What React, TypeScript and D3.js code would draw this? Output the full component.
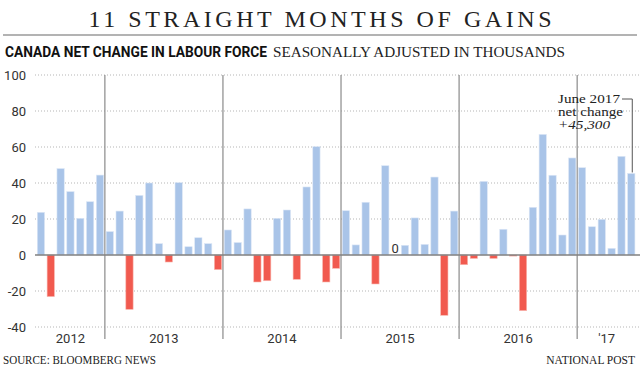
import React from "react";
import * as d3 from "d3";

// monthly net change, Jun 2012 - Jun 2017 (thousands)
const years = ["2012", "2013", "2014", "2015", "2016", "'17"];
const monthsPerYear = [7, 12, 12, 12, 12, 6];
const netChange = [
  23.7, -23.1, 48.0, 35.2, 20.4, 29.6, 44.4,
  13.0, 24.4, -30.2, 33.1, 40.0, 6.3, -3.9, 40.2, 4.6, 9.6, 6.3, -8.1,
  13.9, 6.9, 25.6, -15.0, -14.3, 20.4, 25.0, -13.5, 37.8, 60.2, -15.0, -7.4,
  24.6, 5.6, 29.3, -16.1, 49.6, 0, 5.4, 20.6, 5.9, 43.3, -33.5, 24.4,
  -5.4, -1.9, 40.9, -1.9, 14.3, -0.6, -30.9, 26.5, 67.0, 44.3, 11.1, 53.9,
  48.5, 15.7, 19.8, 3.7, 54.8, 45.3,
];
const yTicks = [100, 80, 60, 40, 20, 0, -20, -40];

const W = 640;
const H = 369;
const BLUE = "#a9c4e8";
const RED = "#f15a4f";

export default function App() {
  const idx = d3.range(netChange.length);
  const x = d3.scaleBand<number>()
    .domain(idx)
    .range([36, 636.2])
    .paddingInner(0.26)
    .paddingOuter(0.13);
  const y = d3.scaleLinear().domain([-40, 100]).range([327, 75]);

  // year boundaries in month index
  const starts = Array.from(d3.cumsum([0, ...monthsPerYear]));
  const edge = (i: number) => 36 + i * x.step();

  const last = netChange.length - 1;
  const lastX = (x(last) ?? 0) + x.bandwidth() / 2;

  return (
    <div style={{ position: "absolute", left: 0, top: 0 }}>
      <svg width={W} height={H} style={{ display: "block", background: "#fff" }}>
        {/* title */}
        <text x={320} y={27} textAnchor="middle" fontFamily="Liberation Serif"
          fontSize={24} fill="#222" textLength={463} lengthAdjust="spacing">
          11 STRAIGHT MONTHS OF GAINS
        </text>
        <line x1={3} x2={637} y1={35} y2={35} stroke="#9a9a9a" strokeWidth={1.5} />
        <text x={5} y={57} fontFamily="Roboto" fontWeight="bold" fontSize={15}
          fill="#111" textLength={262} lengthAdjust="spacingAndGlyphs">
          CANADA NET CHANGE IN LABOUR FORCE
        </text>
        <text x={273} y={57} fontFamily="Liberation Serif" fontSize={14}
          fill="#222" textLength={292} lengthAdjust="spacingAndGlyphs">
          SEASONALLY ADJUSTED IN THOUSANDS
        </text>

        {/* grid + y labels */}
        {yTicks.map((t) => (
          <g key={t}>
            {t !== 0 && (
              <line x1={35} x2={W} y1={y(t)} y2={y(t)} stroke="#b5b5b5"
                strokeWidth={1} strokeDasharray="1 2" />
            )}
            <text x={26} y={y(t)} dy="0.35em" textAnchor="end" fontFamily="Roboto"
              fontSize={13} fill="#333">
              {t}
            </text>
          </g>
        ))}

        {/* year dividers */}
        {starts.slice(1, -1).map((s) => (
          <line key={s} x1={edge(s)} x2={edge(s)} y1={75} y2={339}
            stroke="#8a8a8a" strokeWidth={1.2} />
        ))}
        {years.map((yr, i) => (
          <text key={yr} x={(edge(starts[i]) + edge(starts[i + 1])) / 2} y={343}
            textAnchor="middle" fontFamily="Roboto" fontSize={13} fill="#333">
            {yr}
          </text>
        ))}

        {/* bars */}
        {netChange.map((v, i) => (
          <rect key={i} x={x(i)} width={x.bandwidth()}
            y={y(Math.max(0, v))} height={Math.abs(y(v) - y(0))}
            fill={v >= 0 ? BLUE : RED}
            stroke={v >= 0 ? "#dce7f6" : "#f9b7b0"} strokeWidth={0.6} />
        ))}
        <line x1={35} x2={W} y1={y(0)} y2={y(0)} stroke="#808080" strokeWidth={1.3} />

        {/* zero label for Jun 2015 */}
        <text x={(x(36) ?? 0) + x.bandwidth() / 2} y={y(0) - 2} textAnchor="middle"
          fontFamily="Roboto" fontSize={13} fill="#333">
          0
        </text>

        {/* annotation */}
        <g fontFamily="Liberation Serif" fontSize={12.5} fill="#222"
          lengthAdjust="spacingAndGlyphs">
          <text x={558} y={103} textLength={62} lengthAdjust="spacingAndGlyphs">June 2017</text>
          <text x={558} y={116} textLength={65} lengthAdjust="spacingAndGlyphs">net change</text>
          <text x={558} y={129} textLength={52} lengthAdjust="spacingAndGlyphs"
            fontStyle="italic">+45,300</text>
        </g>
        <path d={`M${622},${99}H${lastX + 1}V${y(netChange[last]) - 1}`}
          fill="none" stroke="#555" strokeWidth={1} />

        {/* footer */}
        <text x={3} y={364} fontFamily="Liberation Serif" fontSize={11.5} fill="#222"
          textLength={153} lengthAdjust="spacingAndGlyphs">
          SOURCE: BLOOMBERG NEWS
        </text>
        <text x={635} y={364} textAnchor="end" fontFamily="Liberation Serif" fontSize={11.5}
          fill="#222">
          NATIONAL POST
        </text>
      </svg>
    </div>
  );
}
